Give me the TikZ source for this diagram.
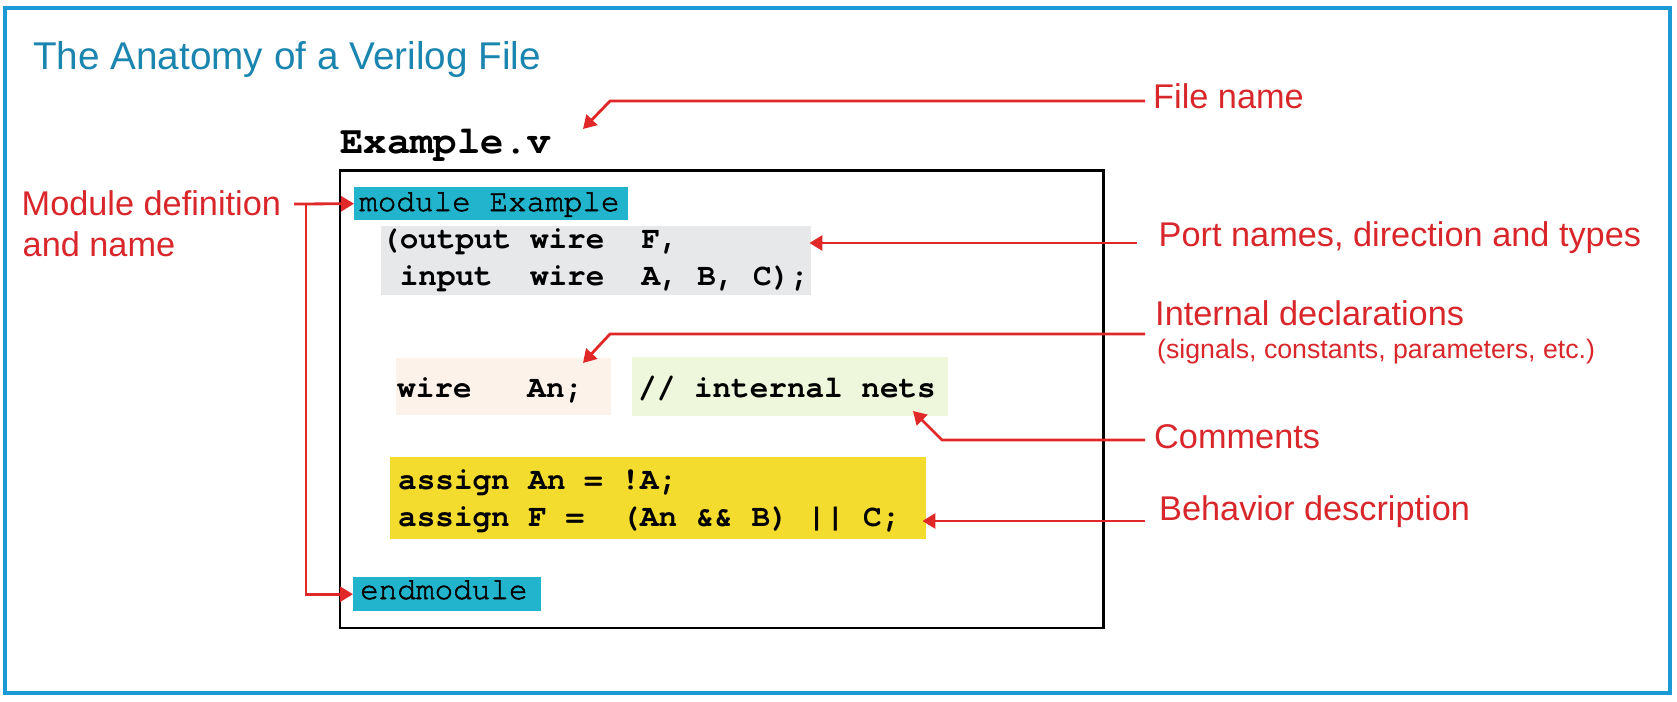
\documentclass[tikz,border=0pt]{standalone}
\usepackage{fontspec}
\setmainfont{Liberation Sans}
\newfontfamily\cursorfont{TeX Gyre Cursor}
\newfontfamily\cursormed{TeX Gyre Cursor}[FakeBold=1.6]
\usetikzlibrary{arrows.meta}
\definecolor{lblred}{HTML}{D8262A}
\definecolor{conred}{HTML}{E02828}
\definecolor{titleblue}{HTML}{1A86B0}
\definecolor{frameblue}{HTML}{1C9AD6}
\definecolor{modcyan}{HTML}{22B4CC}
\definecolor{portgray}{HTML}{E6E8EA}
\definecolor{declpeach}{HTML}{FDF2EA}
\definecolor{commgreen}{HTML}{EEF7DC}
\definecolor{behyellow}{HTML}{F3DC2E}
\newcommand{\ks}{\hspace*{0.6em}}
\begin{document}
\begin{tikzpicture}[x=1pt,y=-1pt,
  txt/.style={inner sep=0pt, anchor=base west},
  lbl/.style={txt, text=lblred, font=\fontsize{34.3}{40}\selectfont},
  lblsmall/.style={txt, text=lblred, font=\fontsize{26.7}{30}\selectfont},
  code/.style={txt, font=\cursorfont\bfseries\fontsize{31}{31}\selectfont},
  coderg/.style={txt, font=\cursormed\fontsize{31}{31}\selectfont},
  hbox/.style={draw=none, inner sep=0pt, anchor=north west},
  con/.style={draw=conred, line width=2.8pt, -{Triangle[length=13pt,width=15pt]}},
]
\useasboundingbox (0,0) rectangle (1677,701);
% outer frame
\draw[frameblue, line width=4pt] (5,8) rectangle (1670,693);
% title
\node[txt, text=titleblue, font=\fontsize{38.7}{44}\selectfont] (title) at (33,70) {The Anatomy of a Verilog File};
% file name
\node[txt, font=\cursorfont\bfseries\fontsize{39}{40}\selectfont] (fname) at (340,153) {Example.v};
% code frame
\draw[black, line width=2.5pt] (340,170.5) rectangle (1103.5,628);
% highlight boxes
\node[hbox, fill=modcyan, minimum width=273.5pt, minimum height=33pt] (modbox) at (354,187) {};
\node[hbox, fill=portgray, minimum width=430pt, minimum height=69pt] (gray) at (381,226) {};
\node[hbox, fill=declpeach, minimum width=215pt, minimum height=57pt] (peach) at (396,358) {};
\node[hbox, fill=commgreen, minimum width=316pt, minimum height=59pt] (green) at (632,357) {};
\node[hbox, fill=behyellow, minimum width=536pt, minimum height=82pt] (yellow) at (390,457) {};
\node[hbox, fill=modcyan, minimum width=188pt, minimum height=34pt] (endbox) at (353,577) {};
% code text
\node[coderg] (tmod) at (359,211) {module\ks Example};
\node[code] (tp1) at (381,248) {(output\ks wire\ks\ks F,};
\node[code] (tp2) at (381,285) {\ks input\ks\ks wire\ks\ks A,\ks B,\ks C);};
\node[code] (twire) at (397,397) {wire\ks\ks\ks An;};
\node[code] (tcomm) at (638,397) {//\ks internal\ks nets};
\node[code] (ta1) at (398,489) {assign\ks An\ks =\ks !A;};
\node[code] (ta2) at (398,526) {assign\ks F\ks =\ks\ks (An\ks \&\&\ks B)\ks ||\ks C;};
\node[coderg] (tend) at (360,599) {endmodule};
% labels
\node[lbl] (lblFile) at (1153,108) {File name};
\node[lbl] (lblPort) at (1158.5,246) {Port names, direction and types};
\node[lbl] (lblInt) at (1155,325) {Internal declarations};
\node[lblsmall] (lblInt2) at (1157,358) {(signals, constants, parameters, etc.)};
\node[lbl] (lblComm) at (1154,448) {Comments};
\node[lbl] (lblBeh) at (1159,520) {Behavior description};
\node[lbl] (lblMod) at (21.5,215) {Module definition};
\node[lbl] (lblMod2) at (22.5,256) {and name};
% connector points
\coordinate (fileS) at (1145,101);
\coordinate (fileK) at (610,101);
\coordinate (fileT) at (583,129);
\coordinate (portS) at (1137,243);
\coordinate (intS) at (1145,334);
\coordinate (intK) at (610,334);
\coordinate (intT) at (583,363);
\coordinate (commS) at (1145,440);
\coordinate (commK) at (942,440);
\coordinate (commT) at (913,411);
\coordinate (behS) at (1145,521);
\coordinate (modS) at (294,204);
\coordinate (modV) at (306,204);
% connectors
\draw[con] (fileS) -- (fileK) -- (fileT);
\draw[con] (portS) -- ([xshift=-2pt]gray.east |- portS);
\draw[con] (intS) -- (intK) -- (intT);
\draw[con] (commS) -- (commK) -- (commT);
\draw[con] (behS) -- ([xshift=-4pt]yellow.east |- behS);
\draw[con] (modS) -- (modbox.west);
\draw[con] (modV) |- (endbox.west);
\end{tikzpicture}
\end{document}
